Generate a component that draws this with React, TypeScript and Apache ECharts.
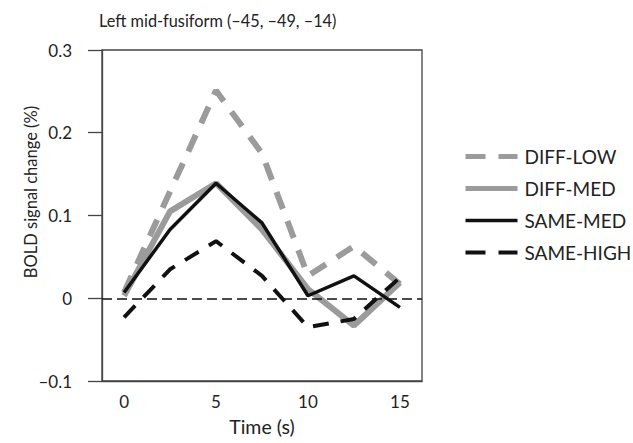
import React, { useEffect, useRef } from "react";
import * as echarts from "echarts";

const times = [0, 2.5, 5, 7.5, 10, 12.5, 15];
const diffLow = [0.007, 0.129, 0.251, 0.175, 0.027, 0.063, 0.017];
const diffMed = [0.003, 0.105, 0.139, 0.083, 0.011, -0.033, 0.019];
const sameMed = [0.007, 0.083, 0.139, 0.091, 0.003, 0.027, -0.011];
const sameHigh = [-0.023, 0.035, 0.069, 0.027, -0.035, -0.025, 0.025];
const xTickLabels = [0, 5, 10, 15];
const seriesNames = ["DIFF-LOW", "DIFF-MED", "SAME-MED", "SAME-HIGH"];

const FONT = "Lato, 'Open Sans', sans-serif";
const GRAY = "#9b9b9b";
const BLACK = "#111111";
const TEXT = "#222222";

const pairs = (ys: number[]) => times.map((t, i) => [t, ys[i]]);

const styles = [
  { color: GRAY, width: 6, type: [18, 13], legendType: [20, 13], legendWidth: 5 },
  { color: GRAY, width: 6, type: "solid", legendType: "solid", legendWidth: 5 },
  { color: BLACK, width: 3.5, type: "solid", legendType: "solid", legendWidth: 3.5 },
  { color: BLACK, width: 4, type: [16, 12], legendType: [20, 13], legendWidth: 4 },
];
const values = [diffLow, diffMed, sameMed, sameHigh];

export default function App() {
  const ref = useRef<HTMLDivElement>(null);
  useEffect(() => {
    if (!ref.current) return;
    const chart = echarts.init(ref.current, null, { renderer: "svg" });
    const fmt = (v: number) => (v === 0 ? "0" : v.toFixed(1).replace("-", "\u2013"));
    chart.setOption({
      animation: false,
      backgroundColor: "#ffffff",
      textStyle: { fontFamily: FONT },
      title: {
        text: "Left mid-fusiform (\u201345, \u201349, \u201314)",
        left: 94,
        top: 7,
        textStyle: { fontFamily: FONT, fontSize: 16.3, fontWeight: "normal", color: TEXT },
      },
      legend: {
        left: 458,
        top: 142,
        orient: "vertical",
        itemWidth: 52,
        itemHeight: 14,
        itemGap: 13,
        data: seriesNames.map((name, i) => ({
          name,
          lineStyle: {
            color: styles[i].color,
            width: styles[i].legendWidth,
            type: styles[i].legendType,
          },
        })),
        itemStyle: { opacity: 0 },
        textStyle: { fontFamily: FONT, fontSize: 19, lineHeight: 18, color: TEXT, padding: [0, 0, 0, 2] },
      },
      graphic: [
        {
          type: "text",
          x: 31,
          y: 192,
          rotation: Math.PI / 2,
          style: {
            text: "BOLD signal change (%)",
            fontFamily: FONT,
            fontSize: 16.5,
            fill: TEXT,
            textAlign: "center",
            textVerticalAlign: "middle",
          },
        },
      ],
      grid: {
        left: 102,
        right: 211,
        top: 50,
        bottom: 62,
        show: true,
        borderColor: "#444",
        borderWidth: 1.3,
      },
      xAxis: {
        type: "value",
        min: -1.2,
        max: 16.2,
        name: "Time (s)",
        nameLocation: "middle",
        nameGap: 35,
        nameTextStyle: { fontFamily: FONT, fontSize: 19.5, color: TEXT },
        axisLine: { show: true, onZero: false, lineStyle: { color: "#444", width: 1.3 } },
        axisTick: { show: false },
        splitLine: { show: false },
        axisLabel: {
          customValues: xTickLabels,
          margin: 12,
          fontFamily: FONT,
          fontSize: 17,
          color: TEXT,
        },
      },
      yAxis: {
        type: "value",
        min: -0.1,
        max: 0.3,
        interval: 0.1,
        axisLine: { show: true, onZero: false, lineStyle: { color: "#444", width: 1.3 } },
        axisTick: { show: true, length: 14, lineStyle: { color: "#444", width: 1.3 } },
        splitLine: { show: false },
        axisLabel: {
          margin: 30,
          fontFamily: FONT,
          fontSize: 17,
          color: TEXT,
          formatter: fmt,
        },
      },
      series: seriesNames.map((name, i) => ({
        name,
        type: "line",
        data: pairs(values[i]),
        symbol: "none",
        lineStyle: { color: styles[i].color, width: styles[i].width, type: styles[i].type },
        itemStyle: { color: styles[i].color },
        z: 2 + i,
        ...(i === 0
          ? {
              markLine: {
                silent: true,
                symbol: "none",
                label: { show: false },
                lineStyle: { color: BLACK, width: 1.5, type: [10, 5] },
                data: [{ yAxis: 0 }],
              },
            }
          : {}),
      })),
    });
    return () => chart.dispose();
  }, []);
  return (
    <div
      ref={ref}
      style={{ position: "fixed", left: 0, top: 0, width: 633, height: 443, background: "#fff" }}
    />
  );
}
